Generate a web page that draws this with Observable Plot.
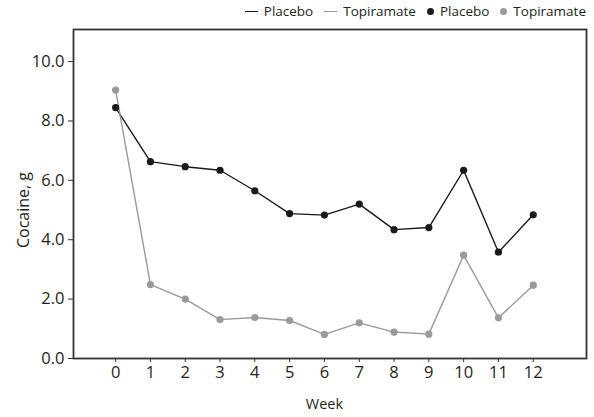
<!DOCTYPE html>
<html>
<head>
<meta charset="utf-8">
<script src="https://cdn.jsdelivr.net/npm/d3@7"></script>
<script src="https://cdn.jsdelivr.net/npm/@observablehq/plot@0.6"></script>
<style>
  html, body { margin: 0; padding: 0; background: #fff; }
  body { width: 594px; height: 417px; overflow: hidden; font-family: "Open Sans", sans-serif; color: #231f20; }
  #legend { height: 22px; display: flex; justify-content: flex-end; align-items: center; gap: 11px; padding-right: 8px; font-size: 13.5px; }
  #legend .item { display: flex; align-items: center; gap: 6px; }
  #legend .line { width: 13px; height: 0; border-top: 1.5px solid; }
  #legend .dot { width: 7px; height: 7px; border-radius: 50%; }
  svg { display: block; }
</style>
</head>
<body>
<div id="legend"></div>
<div id="chart"></div>
<script>
// Weekly cocaine use (g) by treatment group
const weeks = [0, 1, 2, 3, 4, 5, 6, 7, 8, 9, 10, 11, 12];
const placebo = [8.45, 6.63, 6.46, 6.34, 5.65, 4.88, 4.83, 5.2, 4.34, 4.41, 6.34, 3.58, 4.84];
const topiramate = [9.04, 2.49, 2.0, 1.31, 1.38, 1.28, 0.81, 1.2, 0.89, 0.82, 3.48, 1.37, 2.47];
const groups = ["Placebo", "Topiramate"];
const groupColors = ["#1a1a1a", "#9a9a9a"];
const yTicks = [0, 2, 4, 6, 8, 10];

const rows = [
  ...weeks.map((w, i) => ({week: w, value: placebo[i], group: groups[0]})),
  ...weeks.map((w, i) => ({week: w, value: topiramate[i], group: groups[1]}))
];

// Legend: line swatches, then point swatches
const legend = document.getElementById("legend");
for (const kind of ["line", "dot"]) {
  groups.forEach((g, i) => {
    const item = document.createElement("div");
    item.className = "item";
    const sw = document.createElement("span");
    sw.className = kind;
    if (kind === "line") sw.style.borderTopColor = groupColors[i];
    else sw.style.background = groupColors[i];
    const label = document.createElement("span");
    label.textContent = g;
    item.append(sw, label);
    legend.append(item);
  });
}

const chart = Plot.plot({
  width: 594,
  height: 395,
  marginTop: 7,
  marginLeft: 73,
  marginRight: 8,
  marginBottom: 59,
  style: {fontFamily: "Open Sans, sans-serif", color: "#231f20"},
  x: {domain: [-1.21, 13.53]},
  y: {domain: [0, 11.08]},
  color: {domain: groups, range: groupColors},
  marks: [
    Plot.axisX({ticks: weeks, tickFormat: d => d, tickSize: 4, tickPadding: 4, fontSize: 16.5, label: null, stroke: "#333"}),
    Plot.axisY({ticks: yTicks, tickFormat: d3.format(".1f"), tickSize: 5, tickPadding: 4, fontSize: 16.5, label: null, stroke: "#333"}),
    Plot.line(rows, {x: "week", y: "value", z: "group", stroke: "group", strokeWidth: 1.4}),
    Plot.dot(rows, {x: "week", y: "value", fill: "group", r: 3.6}),
    Plot.frame({stroke: "#333", strokeWidth: 1.8}),
    Plot.text(["Week"], {x: 6, frameAnchor: "bottom", dy: 50, text: d => d, fontSize: 14.5, fill: "#231f20"}),
    Plot.text(["Cocaine, g"], {y: 5, frameAnchor: "left", textAnchor: "middle", dx: -50, rotate: -90, text: d => d, fontSize: 16, fill: "#231f20"})
  ]
});
document.getElementById("chart").append(chart);
</script>
</body>
</html>
